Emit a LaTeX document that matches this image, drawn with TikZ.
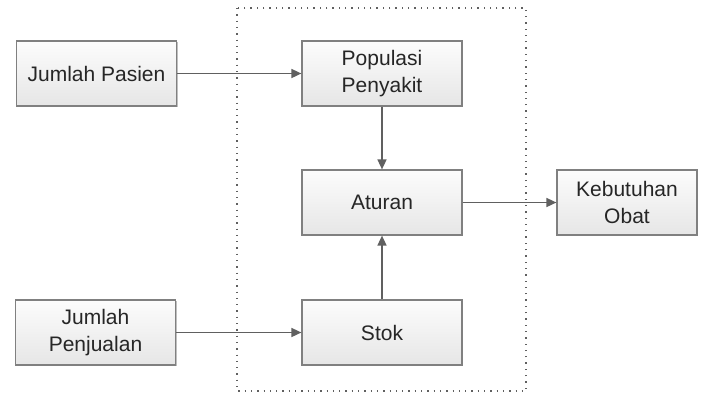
\documentclass[tikz,border=0pt]{standalone}
\usepackage{fontspec}
\setmainfont{Liberation Sans}
\usetikzlibrary{arrows.meta,shadows}
\definecolor{txt}{HTML}{262626}
\definecolor{edge}{HTML}{808080}
\definecolor{conn}{HTML}{606060}
\definecolor{boxtop}{HTML}{FCFCFC}
\definecolor{boxbot}{HTML}{E6E6E6}
\tikzset{
  block/.style={draw=edge, line width=1.2pt, top color=boxtop, bottom color=boxbot,
    minimum width=160pt, minimum height=65pt, inner sep=0pt, align=center,
    text=txt, font=\fontsize{21}{26.5}\selectfont,
    drop shadow={shadow xshift=1pt, shadow yshift=-1pt, opacity=0.25, fill=black}},
  link/.style={draw=conn, line width=1.6pt, -{Triangle[length=10pt,width=9pt]}},
  frame/.style={draw=conn, line width=1.3pt, dash pattern=on 1.3pt off 5pt}
}
\begin{document}
\begin{tikzpicture}[x=1pt,y=-1pt]
  \useasboundingbox (0,0) rectangle (707,394);
  % model boundary
  \draw[frame] (237,8) rectangle (526,391);
  % inputs
  \node[block] (pasien) at (96.5,73.5) {Jumlah Pasien};
  \node[block] (jual) at (95.5,332.5) {Jumlah\\Penjualan};
  % model components
  \node[block] (pop) at (382,73.5) {Populasi\\Penyakit};
  \node[block] (aturan) at (382,202.5) {Aturan};
  \node[block] (stok) at (382,332.5) {Stok};
  % output
  \node[block, minimum width=140pt] (obat) at (627,202.5) {Kebutuhan\\Obat};
  % connectors
  \draw[link] (pasien) -- (pop);
  \draw[link] (jual) -- (stok);
  \draw[link] (pop) -- (aturan);
  \draw[link] (stok) -- (aturan);
  \draw[link] (aturan) -- (obat);
\end{tikzpicture}
\end{document}
